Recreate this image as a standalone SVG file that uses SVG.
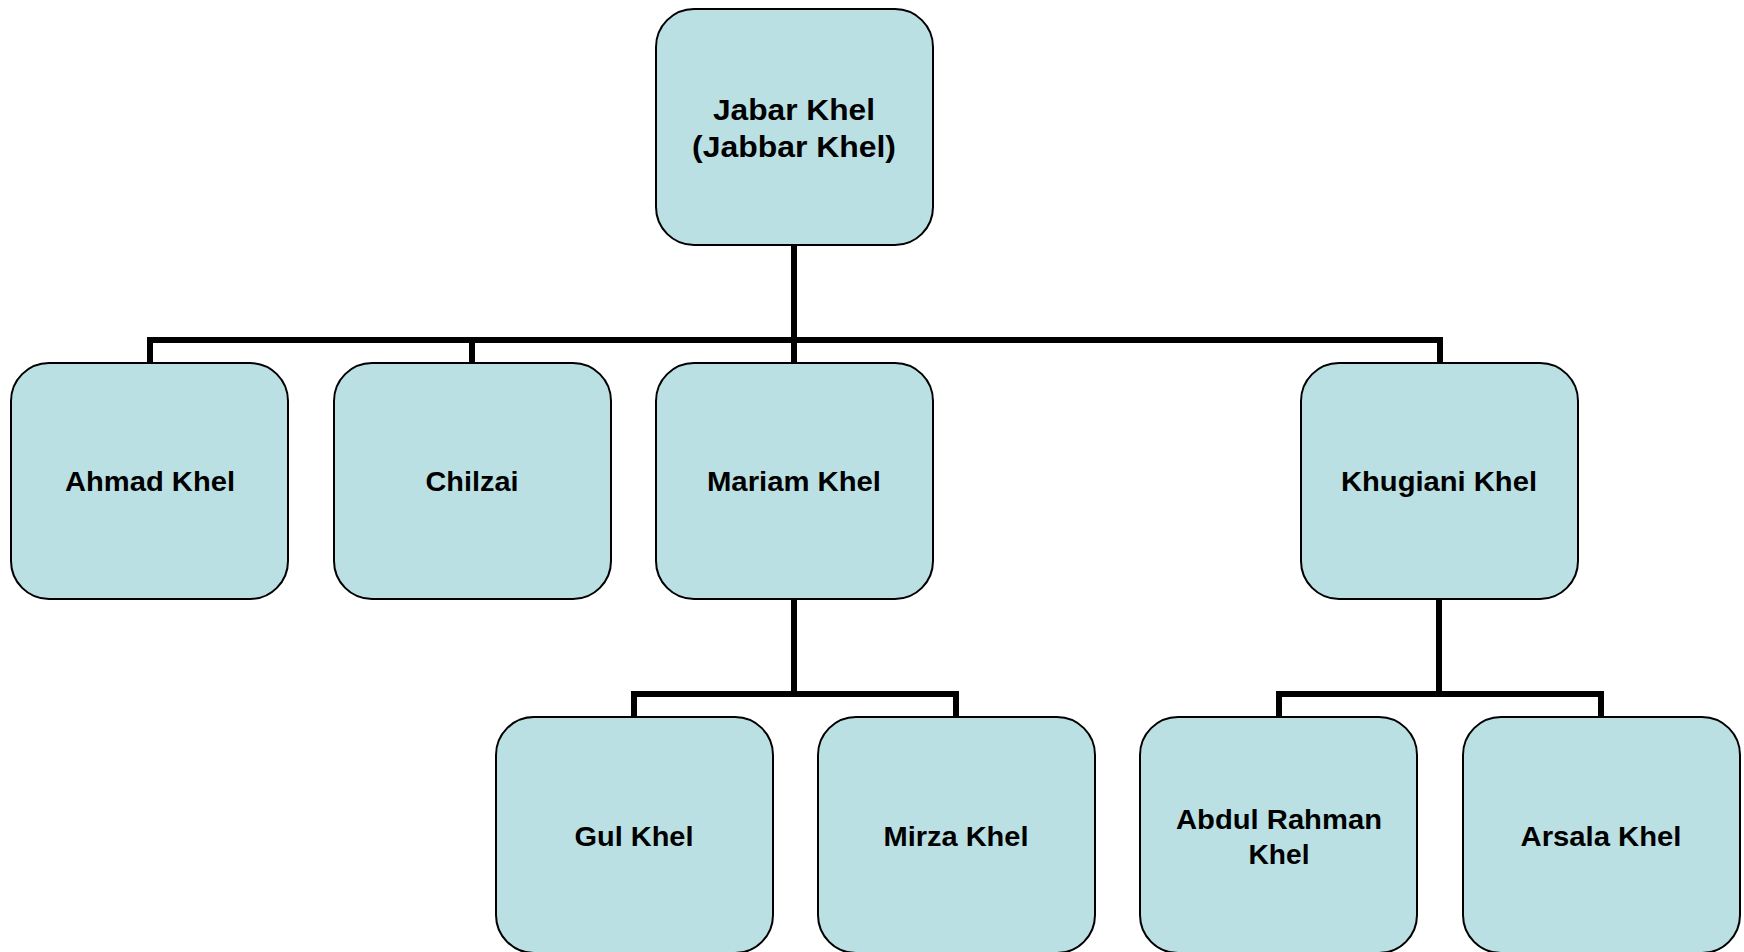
<svg xmlns="http://www.w3.org/2000/svg" width="1744" height="952" viewBox="0 0 1744 952">
<style>
.box{fill:#BAE0E3;stroke:#000;stroke-width:2}
.lbl{font-family:"Liberation Sans",Arial,sans-serif;font-weight:bold;font-size:27px;fill:#000;text-anchor:middle}
.big{font-size:29px}
.conn{fill:none;stroke:#000;stroke-width:6;stroke-linejoin:miter}
</style>
<rect width="1744" height="952" fill="#fff"/>
<g id="connectors">
<path class="conn" d="M794,245 V340 M150,363 V340 H1440 V363 M472,340 V363 M794,340 V363"/>
<path class="conn" d="M794,599 V694 M634,717 V694 H956 V717"/>
<path class="conn" d="M1439,599 V694 M1279,717 V694 H1601 V717"/>
</g>
<g id="jabar">
<rect class="box" x="656" y="9" width="277" height="236" rx="38"/>
<text class="lbl big" x="794" y="120" textLength="162" lengthAdjust="spacingAndGlyphs">Jabar Khel</text>
<text class="lbl big" x="794" y="157" textLength="204" lengthAdjust="spacingAndGlyphs">(Jabbar Khel)</text>
</g>
<g id="ahmad">
<rect class="box" x="11" y="363" width="277" height="236" rx="38"/>
<text class="lbl" x="150" y="491" textLength="170" lengthAdjust="spacingAndGlyphs">Ahmad Khel</text>
</g>
<g id="chilzai">
<rect class="box" x="334" y="363" width="277" height="236" rx="38"/>
<text class="lbl" x="472" y="491" textLength="93" lengthAdjust="spacingAndGlyphs">Chilzai</text>
</g>
<g id="mariam">
<rect class="box" x="656" y="363" width="277" height="236" rx="38"/>
<text class="lbl" x="794" y="491" textLength="174" lengthAdjust="spacingAndGlyphs">Mariam Khel</text>
</g>
<g id="khugiani">
<rect class="box" x="1301" y="363" width="277" height="236" rx="38"/>
<text class="lbl" x="1439" y="491" textLength="196" lengthAdjust="spacingAndGlyphs">Khugiani Khel</text>
</g>
<g id="gul">
<rect class="box" x="496" y="717" width="277" height="236" rx="38"/>
<text class="lbl" x="634" y="846" textLength="119" lengthAdjust="spacingAndGlyphs">Gul Khel</text>
</g>
<g id="mirza">
<rect class="box" x="818" y="717" width="277" height="236" rx="38"/>
<text class="lbl" x="956" y="846" textLength="145" lengthAdjust="spacingAndGlyphs">Mirza Khel</text>
</g>
<g id="abdul">
<rect class="box" x="1140" y="717" width="277" height="236" rx="38"/>
<text class="lbl" x="1279" y="829" textLength="206" lengthAdjust="spacingAndGlyphs">Abdul Rahman</text>
<text class="lbl" x="1279" y="864" textLength="61" lengthAdjust="spacingAndGlyphs">Khel</text>
</g>
<g id="arsala">
<rect class="box" x="1463" y="717" width="277" height="236" rx="38"/>
<text class="lbl" x="1601" y="846" textLength="161" lengthAdjust="spacingAndGlyphs">Arsala Khel</text>
</g>
</svg>
